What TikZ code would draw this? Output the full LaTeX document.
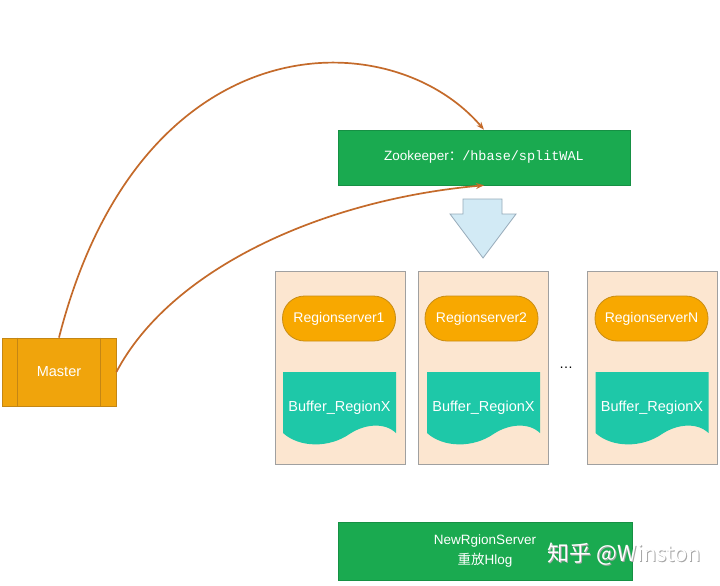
\documentclass[tikz,border=0pt]{standalone}
\usepackage{fontspec}
\setmainfont{Liberation Sans}
\setmonofont{Liberation Mono}
\newfontfamily\cjk{Noto Sans CJK SC}
\usetikzlibrary{arrows.meta}
\definecolor{zkgreen}{RGB}{26,170,80}
\definecolor{mastor}{RGB}{240,164,12}
\definecolor{mastbd}{RGB}{196,134,20}
\definecolor{pillor}{RGB}{248,168,0}
\definecolor{pillbd}{RGB}{200,140,20}
\definecolor{docteal}{RGB}{30,200,168}
\definecolor{beige}{RGB}{252,230,208}
\definecolor{panelbd}{RGB}{160,160,160}
\definecolor{curvec}{RGB}{196,106,42}
\definecolor{arrblue}{RGB}{210,234,245}
\definecolor{arrbd}{RGB}{150,170,185}
\tikzset{
  greenbox/.style={fill=zkgreen, draw=zkgreen!85!black, line width=0.6pt, text=white, font=\fontsize{13.5}{16}\selectfont, align=center},
  panelbox/.style={fill=beige, draw=panelbd, line width=0.8pt, minimum width=130pt, minimum height=193pt},
  pillbox/.style={fill=pillor, draw=pillbd, line width=0.8pt, rounded corners=22pt, minimum width=113pt, minimum height=45pt, text=white, font=\fontsize{14}{16}\selectfont},
  doctext/.style={text=white, font=\fontsize{14.5}{17}\selectfont},
  docfill/.style={fill=docteal},
  link/.style={draw=curvec, line width=1.7pt, -{Stealth[length=8pt,width=6pt]}},
  doc/.pic={\path[docfill] (-56.5,0) -- (56.5,0) -- (56.5,61) .. controls (45,50) and (25,52) .. (10,62) .. controls (-10,76) and (-40,76) .. (-56.5,61) -- cycle;}
}
\begin{document}
\begin{tikzpicture}[x=1pt,y=-1pt]
\useasboundingbox (0,0) rectangle (720,586);
\fill[white] (0,0) rectangle (720,586);

% Zookeeper
\node[greenbox, minimum width=292pt, minimum height=55pt] (zk) at (484,157.5) {Zookeeper{\cjk ：}\texttt{/hbase/splitWAL}};

% down arrow
\path[fill=arrblue, draw=arrbd, line width=0.8pt] (463,199) coordinate (dA) -- (502,199) -- (502,214) -- (516,214) -- (483,258) coordinate (dTip) -- (450,214) -- (463,214) -- cycle;

% panels
\node[panelbox] (p1) at (340,367.5) {};
\node[panelbox] (p2) at (483,367.5) {};
\node[panelbox] (p3) at (652,367.5) {};

% pills
\node[pillbox] (rs1) at (339,318.5) {Regionserver1};
\node[pillbox] (rs2) at (481.5,318.5) {Regionserver2};
\node[pillbox] (rsN) at (651.5,318.5) {RegionserverN};

% documents
\pic at (339.5,372) {doc};
\pic at (483.5,372) {doc};
\pic at (652,372) {doc};
\node[doctext] (b1) at (339.5,408) {Buffer\_RegionX};
\node[doctext] (b2) at (483.5,408) {Buffer\_RegionX};
\node[doctext] (b3) at (652,408) {Buffer\_RegionX};

% dots
\node[font=\fontsize{14}{16}\selectfont] (dots) at (566,368) {\dots};

% Master
\node[fill=mastor, draw=mastbd, line width=0.8pt, minimum width=114pt, minimum height=68pt, text=white, font=\fontsize{14.5}{16}\selectfont] (master) at (59,372) {Master};
\draw[mastbd, line width=0.8pt] ([xshift=16pt]master.north west) -- ([xshift=16pt]master.south west);
\draw[mastbd, line width=0.8pt] ([xshift=-16pt]master.north east) -- ([xshift=-16pt]master.south east);

% curves
\draw[link] (master.north) .. controls (140,20) and (390,20) .. (zk.north);
\draw[link] (master.east) .. controls (170,270) and (320,200) .. (zk.south);

% bottom box
\node[greenbox, minimum width=294pt, minimum height=58pt] (nrs) at (485,551) {NewRgionServer\\[4pt]{\cjk 重放}Hlog};

% watermark
\node[text=gray!70, font=\cjk\fontsize{22}{26}\selectfont] (wm0) at (625.5,555.5) {知乎 @Winston};
\node[text=white, font=\cjk\fontsize{22}{26}\selectfont] (wm) at (624.5,554.5) {知乎 @Winston};
\end{tikzpicture}
\end{document}
